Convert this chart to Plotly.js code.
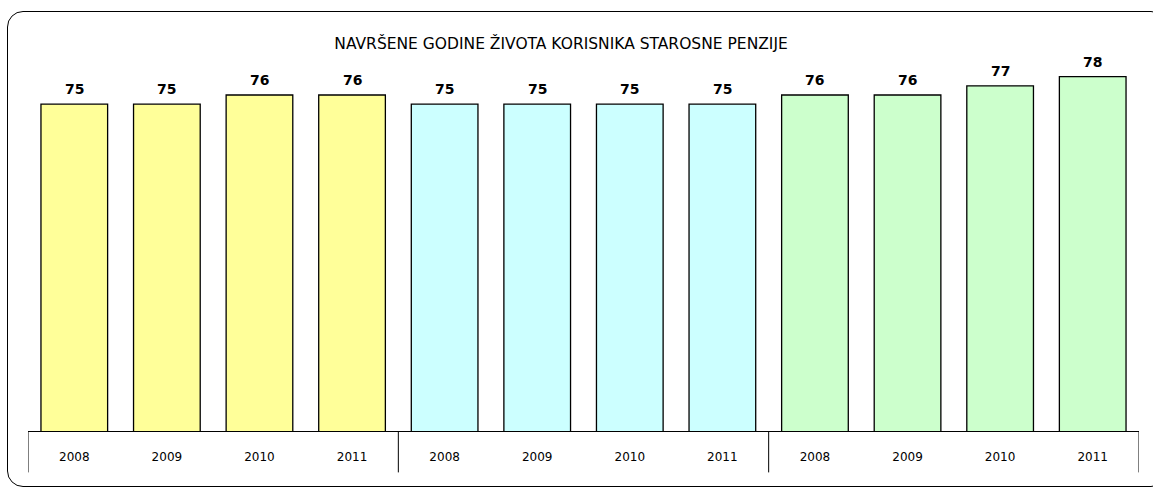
<!DOCTYPE html>
<html>
<head>
<meta charset="utf-8">
<script src="https://cdn.plot.ly/plotly-3.0.1.min.js"></script>
<style>
  html, body { margin: 0; padding: 0; background: #fff; }
  #wrap { position: relative; width: 1153px; height: 490px; overflow: hidden; }
  #frame { position: absolute; left: 7px; top: 11px; width: 1160px; height: 476px;
           border: 1.5px solid #000; border-radius: 16px; box-sizing: border-box; pointer-events: none; }
  #chart { position: absolute; left: 0; top: 0; width: 1153px; height: 490px; }
</style>
</head>
<body>
<div id="wrap">
  <div id="chart"></div>
  <div id="frame"></div>
</div>
<script>
const chartTitle = "NAVRŠENE GODINE ŽIVOTA KORISNIKA STAROSNE PENZIJE";
const years = ["2008", "2009", "2010", "2011", "2008", "2009", "2010", "2011", "2008", "2009", "2010", "2011"];
const values = [75, 75, 76, 76, 75, 75, 75, 75, 76, 76, 77, 78];
const groupColors = ["#FFFF99", "#CCFFFF", "#CCFFCC"];
const groupSize = 4;

const xs = values.map((v, i) => i);
const colors = values.map((v, i) => groupColors[Math.floor(i / groupSize)]);

const trace = {
  type: "bar",
  x: xs,
  y: values,
  width: 0.72,
  marker: { color: colors, line: { color: "#000", width: 1.3 } },
  hoverinfo: "none"
};

const annotations = values.map((v, i) => ({
  x: i, y: v, xref: "x", yref: "y",
  text: "<b>" + v + "</b>",
  showarrow: false, yanchor: "bottom", yshift: 5,
  font: { family: "DejaVu Sans", size: 14, color: "#000" }
}));

const lowY = -0.111;
const shapes = [];
const dividers = [-0.5];
for (let g = 1; g <= groupColors.length; g++) dividers.push(g * groupSize - 0.5);
dividers.forEach(d => shapes.push({
  type: "line", xref: "x", yref: "paper", x0: d, x1: d, y0: 0, y1: lowY,
  line: { color: "#000", width: 1 }
}));

const layout = {
  width: 1153, height: 490,
  margin: { l: 28, r: 14, t: 58, b: 58.5 },
  paper_bgcolor: "rgba(0,0,0,0)",
  plot_bgcolor: "rgba(0,0,0,0)",
  showlegend: false,
  title: {
    text: chartTitle,
    x: 0.4866, xref: "container", xanchor: "center",
    y: 1 - 44 / 490, yref: "container", yanchor: "middle",
    font: { family: "DejaVu Sans", size: 15.5, color: "#000" }
  },
  xaxis: {
    range: [-0.5, 11.5],
    tickmode: "array", tickvals: xs, ticktext: years,
    showline: true, linecolor: "#000", linewidth: 1,
    showgrid: false, zeroline: false, ticks: "",
    ticklabelstandoff: 15,
    tickfont: { family: "DejaVu Sans", size: 12, color: "#000" },
    fixedrange: true
  },
  yaxis: {
    range: [39.43, 80.03],
    visible: false, showgrid: false, zeroline: false, fixedrange: true
  },
  bargap: 0.28,
  annotations: annotations,
  shapes: shapes
};

Plotly.newPlot("chart", [trace], layout, { displayModeBar: false, staticPlot: true });
</script>
</body>
</html>
